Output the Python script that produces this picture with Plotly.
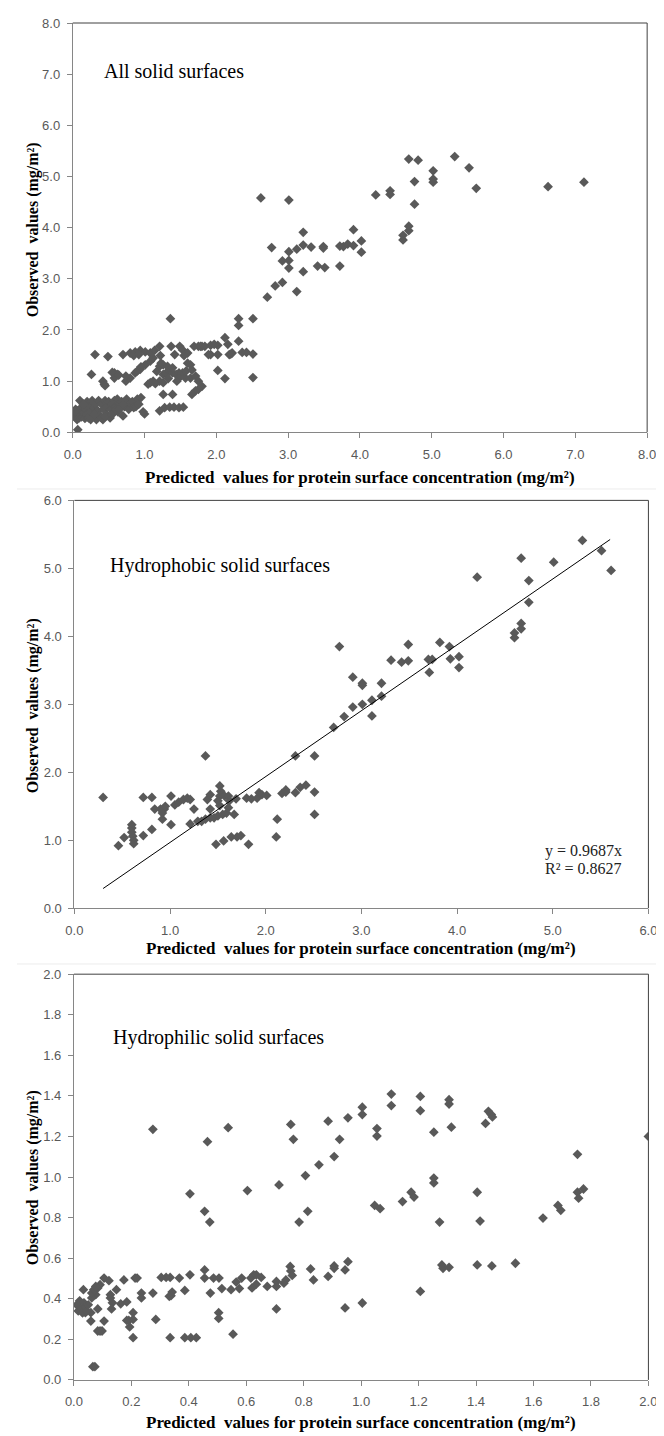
import plotly.graph_objects as go

# ---------------- data ----------------
# Panel 1: all solid surfaces
all_x = [2.62, 3.01, 4.22, 4.42, 4.42, 4.68, 4.81, 4.76, 4.76, 5.02, 5.02, 5.02, 5.32, 5.52, 5.62, 6.62, 7.12,
         4.60, 4.60, 4.68, 4.68,
         2.71, 2.82, 2.92, 2.77, 2.92, 3.01, 3.01, 3.01, 3.12, 3.12, 3.21, 3.21, 3.21, 3.32, 3.41, 3.49, 3.49, 3.51,
         3.72, 3.72, 3.77, 3.83, 3.91, 3.91, 4.02, 4.02,
         2.12, 2.12, 2.02, 2.16, 2.18, 2.22, 2.20, 2.31, 2.31, 2.31, 2.36, 2.42, 2.51, 2.51, 2.51, 1.92, 1.92, 2.02,
         2.02, 1.80, 1.75, 1.97,
         1.36,
         0.31, 0.49, 0.70, 0.80, 0.87, 0.94, 1.01, 1.08, 1.14, 1.21, 1.22, 1.37, 1.49, 1.53, 1.60, 1.69, 1.78, 1.84,
         1.89, 0.85, 0.92, 1.42, 1.55,
         0.26, 0.42, 0.44, 0.58, 0.62, 0.58, 0.74, 0.80, 0.87, 0.94, 1.01, 1.08, 1.12, 0.74, 1.05, 1.12, 1.17, 1.21,
         1.23, 1.26, 1.30, 1.35, 1.39, 1.44, 1.48, 1.53, 1.26, 1.32, 1.39, 1.21, 1.26, 1.08, 1.48, 1.57, 1.64, 1.71,
         1.75, 1.80, 1.75, 1.71, 1.66, 1.60, 1.64, 1.26, 1.39, 1.21, 1.28, 1.35, 1.41, 1.48, 1.54, 0.45, 0.55, 0.64,
         0.90, 0.95, 1.15, 1.33, 1.45, 1.58, 1.66,
         0.02, 0.03, 0.04, 0.05, 0.06, 0.07, 0.08, 0.09, 0.10, 0.10, 0.12, 0.13, 0.15, 0.17, 0.18, 0.20, 0.20, 0.22,
         0.24, 0.25, 0.27, 0.28, 0.30, 0.32, 0.33, 0.35, 0.36, 0.38, 0.40, 0.42, 0.43, 0.45, 0.47, 0.48, 0.50, 0.52,
         0.53, 0.55, 0.57, 0.58, 0.60, 0.62, 0.63, 0.65, 0.68, 0.70, 0.72, 0.75, 0.78, 0.80, 0.83, 0.85, 0.88, 0.90,
         0.92, 0.95, 1.00, 0.98, 0.07, 0.01, 0.02, 0.04, 0.05, 0.03, 0.15, 0.25, 0.30, 0.40, 0.45, 0.55, 0.60, 0.65,
         0.70]
all_y = [4.58, 4.54, 4.64, 4.72, 4.65, 5.34, 5.32, 4.90, 4.46, 5.11, 4.95, 4.89, 5.39, 5.17, 4.77, 4.80, 4.89,
         3.76, 3.85, 3.94, 4.03,
         2.64, 2.86, 2.93, 3.61, 3.35, 3.53, 3.36, 3.21, 3.58, 2.75, 3.91, 3.66, 3.14, 3.62, 3.25, 3.63, 3.60, 3.22,
         3.25, 3.64, 3.63, 3.68, 3.96, 3.65, 3.74, 3.52,
         1.85, 1.05, 1.21, 1.72, 1.52, 1.55, 1.53, 2.22, 2.09, 1.78, 1.56, 1.56, 2.22, 1.53, 1.07, 1.52, 1.70, 1.70,
         1.52, 1.68, 1.68, 1.72,
         2.22,
         1.52, 1.48, 1.52, 1.55, 1.57, 1.60, 1.57, 1.55, 1.60, 1.68, 1.50, 1.68, 1.68, 1.61, 1.55, 1.68, 1.68, 1.68,
         1.52, 1.50, 1.52, 1.52, 1.50,
         1.13, 1.00, 0.94, 1.16, 1.13, 1.06, 1.00, 1.06, 1.16, 1.23, 1.32, 1.39, 1.45, 1.10, 0.94, 1.00, 1.19, 1.29,
         1.35, 1.13, 1.16, 1.19, 1.16, 1.13, 1.16, 1.16, 1.32, 1.29, 1.26, 1.00, 0.97, 0.97, 1.06, 1.06, 1.06, 1.10,
         1.00, 0.90, 0.84, 0.81, 0.74, 1.35, 1.32, 0.74, 0.74, 0.42, 0.48, 0.49, 0.49, 0.48, 0.49, 0.91, 1.17, 1.12,
         1.20, 1.28, 0.95, 1.05, 1.00, 1.20, 1.22,
         0.40, 0.30, 0.45, 0.35, 0.25, 0.42, 0.33, 0.28, 0.40, 0.62, 0.30, 0.50, 0.38, 0.27, 0.45, 0.60, 0.35, 0.28,
         0.50, 0.40, 0.62, 0.30, 0.48, 0.55, 0.25, 0.42, 0.62, 0.33, 0.55, 0.25, 0.45, 0.62, 0.35, 0.50, 0.60, 0.28,
         0.45, 0.55, 0.40, 0.62, 0.50, 0.65, 0.40, 0.55, 0.60, 0.32, 0.50, 0.65, 0.45, 0.55, 0.60, 0.48, 0.50, 0.65,
         0.55, 0.68, 0.36, 0.40, 0.05, 0.38, 0.32, 0.36, 0.42, 0.40, 0.55, 0.25, 0.35, 0.28, 0.30, 0.35, 0.45, 0.45,
         0.55]

# Panel 2: hydrophobic solid surfaces
phob_x = [0.30, 0.46, 0.52, 0.60, 0.60, 0.60, 0.61, 0.62, 0.62, 0.72, 0.72, 0.81, 0.81, 0.84, 0.90, 0.94, 0.92,
          0.92, 0.95, 1.01, 1.01, 1.05, 1.09, 1.14, 1.18, 1.21, 1.21, 1.25, 1.29, 1.33, 1.37, 1.42, 1.46, 1.50,
          1.55, 1.59, 1.37, 1.39, 1.42, 1.42, 1.48, 1.56, 1.52, 1.53, 1.52, 1.50, 1.52, 1.57, 1.61, 1.62, 1.61,
          1.67, 1.64, 1.70, 1.74, 1.69, 1.80, 1.85, 1.82, 1.91, 1.93, 1.96, 2.01, 2.12, 2.11, 2.17, 2.21, 2.21,
          2.31, 2.31, 2.36, 2.42, 2.51, 2.51, 2.51, 2.71, 2.77, 2.82, 2.91, 2.91, 3.01, 3.01, 3.01, 3.11, 3.11,
          3.21, 3.21, 3.31, 3.42, 3.49, 3.49, 3.70, 3.74, 3.71, 3.82, 3.92, 3.93, 4.02, 4.02, 4.21, 4.60, 4.60,
          4.67, 4.67, 4.67, 4.75, 4.75, 5.01, 5.31, 5.51, 5.61]
phob_y = [1.63, 0.92, 1.04, 1.23, 1.18, 1.12, 1.06, 1.00, 0.95, 1.07, 1.63, 1.63, 1.16, 1.46, 1.46, 1.46, 1.31,
          1.40, 1.50, 1.65, 1.23, 1.52, 1.56, 1.60, 1.62, 1.60, 1.24, 1.46, 1.28, 1.28, 1.31, 1.33, 1.33, 1.36,
          1.38, 1.40, 2.24, 1.60, 1.67, 1.46, 0.94, 0.99, 1.80, 1.72, 1.65, 1.58, 1.51, 1.65, 1.65, 1.58, 1.48,
          1.38, 1.05, 1.05, 1.07, 1.61, 1.62, 1.61, 0.94, 1.62, 1.70, 1.67, 1.66, 1.31, 1.05, 1.69, 1.71, 1.74,
          2.24, 1.70, 1.78, 1.81, 2.24, 1.71, 1.38, 2.66, 3.85, 2.82, 3.40, 2.96, 3.31, 3.28, 3.00, 3.06, 2.83,
          3.31, 3.12, 3.65, 3.62, 3.88, 3.64, 3.66, 3.66, 3.47, 3.91, 3.85, 3.67, 3.70, 3.54, 4.87, 4.05, 3.98,
          4.19, 4.11, 5.15, 4.82, 4.50, 5.09, 5.41, 5.26, 4.97]
trend_x = [0.30, 5.60]
trend_slope = 0.9687

# Panel 3: hydrophilic solid surfaces
phil_x = [2.00, 1.105, 1.105, 1.206, 1.206, 1.306, 1.306, 1.314, 1.004, 1.004, 0.954, 0.885, 0.925, 0.906, 0.853,
          0.806, 1.055, 1.055, 1.253, 1.443, 1.453, 1.457, 1.433, 0.755, 0.764, 0.714, 0.604, 0.537, 0.465, 0.275,
          0.404, 0.455, 0.473, 0.784, 0.814, 1.047, 1.066, 1.144, 1.174, 1.184, 1.253, 1.253, 1.273, 1.404, 1.414,
          1.633, 1.685, 1.695, 1.753, 1.753, 1.757, 1.774, 1.281, 1.285, 1.306, 1.404, 1.455, 1.537, 1.206, 1.004,
          0.944, 0.954, 0.944, 0.906, 0.906, 0.885, 0.824, 0.834, 0.753, 0.755, 0.760, 0.738, 0.731, 0.705, 0.705,
          0.705, 0.673, 0.652, 0.635, 0.626, 0.616, 0.635, 0.620, 0.584, 0.565, 0.576, 0.547, 0.554, 0.515, 0.505,
          0.486, 0.475, 0.455, 0.455, 0.504, 0.504, 0.426, 0.407, 0.386, 0.404, 0.386, 0.367, 0.342, 0.338, 0.332,
          0.335, 0.321, 0.304, 0.335, 0.285, 0.275, 0.235, 0.235, 0.213, 0.220, 0.206, 0.206, 0.206, 0.194, 0.191,
          0.184, 0.184, 0.174, 0.163, 0.148, 0.134, 0.127, 0.127, 0.131, 0.122, 0.105, 0.098, 0.083, 0.091, 0.105,
          0.091, 0.083, 0.076, 0.083, 0.066, 0.073, 0.059, 0.062, 0.062, 0.069, 0.076, 0.059, 0.040, 0.033, 0.010,
          0.015, 0.020, 0.025, 0.030, 0.035, 0.040, 0.045, 0.050]
phil_y = [1.200, 1.409, 1.352, 1.397, 1.327, 1.381, 1.360, 1.246, 1.344, 1.308, 1.292, 1.275, 1.186, 1.101, 1.060,
          1.007, 1.239, 1.202, 1.221, 1.324, 1.308, 1.296, 1.264, 1.259, 1.186, 0.961, 0.933, 1.243, 1.174, 1.235,
          0.917, 0.831, 0.778, 0.778, 0.831, 0.860, 0.844, 0.879, 0.925, 0.901, 0.995, 0.971, 0.778, 0.925, 0.783,
          0.798, 0.860, 0.836, 1.112, 0.925, 0.896, 0.941, 0.567, 0.550, 0.555, 0.567, 0.562, 0.575, 0.436, 0.379,
          0.355, 0.583, 0.542, 0.562, 0.550, 0.510, 0.547, 0.493, 0.559, 0.537, 0.515, 0.493, 0.477, 0.485, 0.461,
          0.350, 0.461, 0.505, 0.472, 0.518, 0.502, 0.518, 0.453, 0.502, 0.482, 0.450, 0.445, 0.225, 0.450, 0.502,
          0.502, 0.428, 0.542, 0.502, 0.331, 0.303, 0.208, 0.208, 0.208, 0.518, 0.441, 0.502, 0.433, 0.415, 0.412,
          0.505, 0.505, 0.505, 0.208, 0.298, 0.428, 0.428, 0.404, 0.502, 0.502, 0.331, 0.298, 0.208, 0.261, 0.293,
          0.293, 0.384, 0.493, 0.375, 0.445, 0.380, 0.404, 0.420, 0.350, 0.489, 0.290, 0.241, 0.241, 0.241, 0.502,
          0.469, 0.453, 0.420, 0.350, 0.065, 0.065, 0.290, 0.404, 0.428, 0.445, 0.461, 0.331, 0.331, 0.445, 0.370,
          0.340, 0.390, 0.350, 0.330, 0.380, 0.360, 0.340, 0.370]

x_title = "Predicted  values for protein surface concentration (mg/m²)"
y_title = "Observed  values (mg/m²)"
panel_labels = ["All solid surfaces", "Hydrophobic solid surfaces", "Hydrophilic solid surfaces"]
eq_lines = ["y = 0.9687x", "R² = 0.8627"]

# ---------------- layout helpers ----------------
W, H = 664, 1436
def px(v):
    return v / W
def py(v):
    return 1 - v / H

MARK = "#595959"
AX = "#868686"
TICKFONT = dict(family="Liberation Sans", size=13, color="#595959")
SERIF = "Liberation Serif"

fig = go.Figure()
fig.add_trace(go.Scatter(x=all_x, y=all_y, mode="markers", xaxis="x", yaxis="y",
                         marker=dict(symbol="diamond", size=7.5, color=MARK)))
fig.add_trace(go.Scatter(x=phob_x, y=phob_y, mode="markers", xaxis="x2", yaxis="y2",
                         marker=dict(symbol="diamond", size=7.5, color=MARK)))
fig.add_trace(go.Scatter(x=trend_x, y=[trend_slope * v for v in trend_x], mode="lines",
                         xaxis="x2", yaxis="y2", line=dict(color="black", width=1)))
fig.add_trace(go.Scatter(x=phil_x, y=phil_y, mode="markers", xaxis="x3", yaxis="y3",
                         marker=dict(symbol="diamond", size=7.5, color=MARK)))

panels = [
    dict(x0=57.3, x1=647.7, yt=8.1, yb=421.7, xr=8, xd=1, yr=8, yd=1, ty=467, yc=217, lab=(87, 57)),
    dict(x0=59, x1=649, yt=490.5, yb=902.7, xr=6, xd=1, yr=6, yd=1, ty=943, yc=698, lab=(94, 556)),
    dict(x0=58.5, x1=649, yt=969.3, yb=1379.3, xr=2, xd=0.2, yr=2, yd=0.2, ty=1422, yc=1175, lab=(97, 1033)),
]

annotations = []
shapes = []
for i, p in enumerate(panels):
    sx = "" if i == 0 else str(i + 1)
    xa = dict(domain=[px(p["x0"]), px(p["x1"])], range=[0, p["xr"]], dtick=p["xd"], tick0=0,
              tickformat=".1f", showline=True, linecolor=AX, linewidth=1, ticks="outside",
              ticklen=5, tickcolor=AX, showgrid=False, zeroline=False, tickfont=TICKFONT,
              anchor="y" + sx, ticklabelstandoff=5, fixedrange=True)
    ya = dict(domain=[py(p["yb"]), py(p["yt"])], range=[0, p["yr"]], dtick=p["yd"], tick0=0,
              tickformat=".1f", showline=True, linecolor=AX, linewidth=1, ticks="outside",
              ticklen=5, tickcolor=AX, showgrid=False, zeroline=False, tickfont=TICKFONT,
              anchor="x" + sx, ticklabelstandoff=4, fixedrange=True)
    fig.layout["xaxis" + sx] = xa
    fig.layout["yaxis" + sx] = ya
    # top and right frame of the plot area
    shapes.append(dict(type="line", xref="paper", yref="paper", x0=px(p["x0"]), x1=px(p["x1"]),
                       y0=py(p["yt"]), y1=py(p["yt"]), line=dict(color="#404040", width=1)))
    shapes.append(dict(type="line", xref="paper", yref="paper", x0=px(p["x1"]), x1=px(p["x1"]),
                       y0=py(p["yt"]), y1=py(p["yb"]), line=dict(color="#404040", width=1)))
    cx = (p["x0"] + p["x1"]) / 2
    annotations.append(dict(text=x_title, xref="paper", yref="paper",
                            x=px(cx), y=py(p["ty"]), xanchor="center", yanchor="middle",
                            showarrow=False,
                            font=dict(family=SERIF, size=17, color="black", weight="bold")))
    annotations.append(dict(text=y_title, xref="paper", yref="paper",
                            x=px(16), y=py(p["yc"]), xanchor="center", yanchor="middle", textangle=-90,
                            showarrow=False,
                            font=dict(family=SERIF, size=16, color="black", weight="bold")))
    annotations.append(dict(text=panel_labels[i], xref="paper", yref="paper",
                            x=px(p["lab"][0]), y=py(p["lab"][1]), xanchor="left", yanchor="middle",
                            showarrow=False, font=dict(family=SERIF, size=20, color="black")))

for line_text, line_y in zip(eq_lines, (845, 863)):
    annotations.append(dict(text=line_text, xref="paper", yref="paper", x=px(541), y=py(line_y),
                            xanchor="left", yanchor="middle", align="left", showarrow=False,
                            font=dict(family=SERIF, size=16, color="#222222")))

# faint separators between stacked panels
for sy in (479, 959):
    shapes.append(dict(type="line", xref="paper", yref="paper", x0=0, x1=1, y0=py(sy), y1=py(sy),
                       line=dict(color="#ececec", width=1)))

fig.update_layout(width=W, height=H, margin=dict(l=0, r=0, t=0, b=0), showlegend=False,
                  paper_bgcolor="white", plot_bgcolor="white",
                  annotations=annotations, shapes=shapes)

fig.write_html("out.html")
